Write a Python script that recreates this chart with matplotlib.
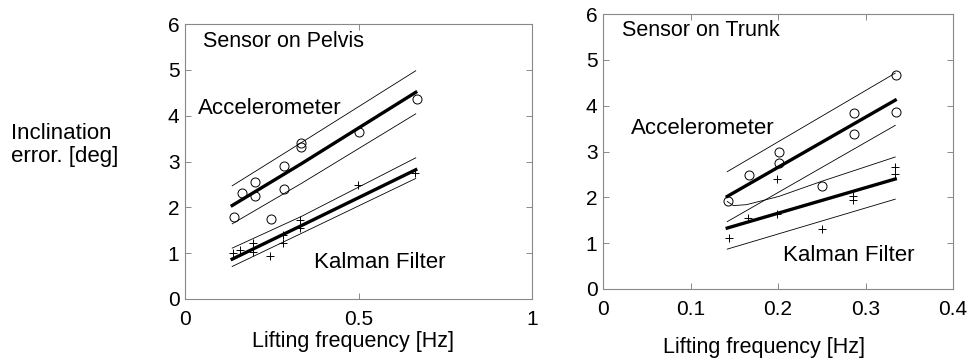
import matplotlib
matplotlib.use("Agg")
import matplotlib.pyplot as plt

plt.rcParams['font.family'] = ['Liberation Sans', 'DejaVu Sans']

# ---- Left panel: Sensor on Pelvis ----
pel_acc_x = [0.141, 0.163, 0.202, 0.202, 0.248, 0.286, 0.286, 0.335, 0.335, 0.502, 0.668]
pel_acc_y = [1.80, 2.31, 2.55, 2.25, 1.74, 2.91, 2.40, 3.41, 3.32, 3.65, 4.36]
pel_kal_x = [0.137, 0.158, 0.197, 0.197, 0.245, 0.282, 0.282, 0.330, 0.330, 0.499, 0.664]
pel_kal_y = [1.01, 1.08, 1.23, 1.03, 0.94, 1.23, 1.40, 1.72, 1.54, 2.49, 2.75]

pel_fit_x = [0.136, 0.335, 0.665]
pel_acc_fit = [2.04, 2.95, 4.51]
pel_acc_up = [2.47, 3.41, 4.98]
pel_acc_lo = [1.64, 2.52, 4.04]
pel_kal_fit = [0.87, 1.60, 2.82]
pel_kal_up = [1.11, 1.80, 3.08]
pel_kal_lo = [0.71, 1.43, 2.63]

# ---- Right panel: Sensor on Trunk ----
tr_acc_x = [0.143, 0.167, 0.201, 0.201, 0.250, 0.287, 0.287, 0.335, 0.335]
tr_acc_y = [1.91, 2.49, 2.98, 2.75, 2.25, 3.83, 3.38, 4.68, 3.86]
tr_kal_x = [0.144, 0.166, 0.199, 0.199, 0.250, 0.286, 0.286, 0.334, 0.334]
tr_kal_y = [1.12, 1.54, 2.39, 1.63, 1.32, 2.03, 1.94, 2.66, 2.50]

tr_fit_x = [0.142, 0.334]
tr_acc_fit = [2.02, 4.12]
tr_acc_up = [2.56, 4.71]
tr_acc_lo = [1.47, 3.57]
tr_kal_fit = [1.33, 2.40]
tr_kal_lo = [0.87, 1.96]
tr_kal_up_x = [0.142, 0.149, 0.164, 0.201, 0.250, 0.334]
tr_kal_up = [1.91, 1.82, 1.84, 2.02, 2.35, 2.88]

fig = plt.figure(figsize=(9.69, 3.59), dpi=100)
ax1 = fig.add_axes([185/969, 60/359, 347/969, 275/359])
ax2 = fig.add_axes([603/969, 70/359, 350/969, 275/359])

FS = 15.5

def style(ax, xlim, xticks, xticklabels, label_xy):
    ax.set_xlim(*xlim)
    ax.set_ylim(0, 6)
    ax.set_xticks(xticks)
    ax.set_xticklabels(xticklabels)
    ax.set_yticks(range(7))
    ax.tick_params(direction='in', length=4, width=0.6, color='#777777',
                   top=True, right=True, labelsize=15)
    ax.tick_params(axis='x', pad=8)
    ax.tick_params(axis='y', pad=4)
    for s in ax.spines.values():
        s.set_color('#888888')
        s.set_linewidth(0.8)
    ax.set_xlabel('Lifting frequency [Hz]', fontsize=FS, va='center')
    ax.xaxis.set_label_coords(*label_xy)

thin = dict(color='black', lw=0.6)
thick = dict(color='black', lw=2.4)

# left
ax1.plot(pel_fit_x, pel_acc_fit, **thick)
ax1.plot(pel_fit_x, pel_acc_up, **thin)
ax1.plot(pel_fit_x, pel_acc_lo, **thin)
ax1.plot(pel_fit_x, pel_kal_fit, **thick)
ax1.plot(pel_fit_x, pel_kal_up, **thin)
ax1.plot(pel_fit_x, pel_kal_lo, **thin)
ax1.plot(pel_acc_x, pel_acc_y, 'o', mfc='none', mec='black', ms=6.5, mew=0.7)
ax1.plot(pel_kal_x, pel_kal_y, '+', color='black', ms=6, mew=0.7)
style(ax1, (0, 1), [0, 0.5, 1], ['0', '0.5', '1'],
      ((352.5 - 185) / 347, (299 - 341) / 275))
ax1.text(0.052, 5.61, 'Sensor on Pelvis', fontsize=FS, va='center')
ax1.text(0.037, 4.15, 'Accelerometer', fontsize=16, va='center')
ax1.text(0.372, 0.79, 'Kalman Filter', fontsize=16, va='center')

# right
ax2.plot(tr_fit_x, tr_acc_fit, **thick)
ax2.plot(tr_fit_x, tr_acc_up, **thin)
ax2.plot(tr_fit_x, tr_acc_lo, **thin)
ax2.plot(tr_fit_x, tr_kal_fit, **thick)
ax2.plot(tr_fit_x, tr_kal_lo, **thin)
ax2.plot(tr_kal_up_x, tr_kal_up, **thin)
ax2.plot(tr_acc_x, tr_acc_y, 'o', mfc='none', mec='black', ms=6.5, mew=0.7)
ax2.plot(tr_kal_x, tr_kal_y, '+', color='black', ms=6, mew=0.7)
style(ax2, (0, 0.4), [0, 0.1, 0.2, 0.3, 0.4], ['0', '0.1', '0.2', '0.3', '0.4'],
      ((764 - 603) / 350, (289 - 348) / 275))
ax2.text(0.0217, 5.63, 'Sensor on Trunk', fontsize=FS, va='center')
ax2.text(0.032, 3.51, 'Accelerometer', fontsize=16, va='center')
ax2.text(0.206, 0.74, 'Kalman Filter', fontsize=16, va='center')

fig.text(65/969, 1 - 145/359, 'Inclination\nerror. [deg]', fontsize=16,
         ha='center', va='center', multialignment='left', linespacing=1.15)

fig.savefig('out.png', dpi=100)
